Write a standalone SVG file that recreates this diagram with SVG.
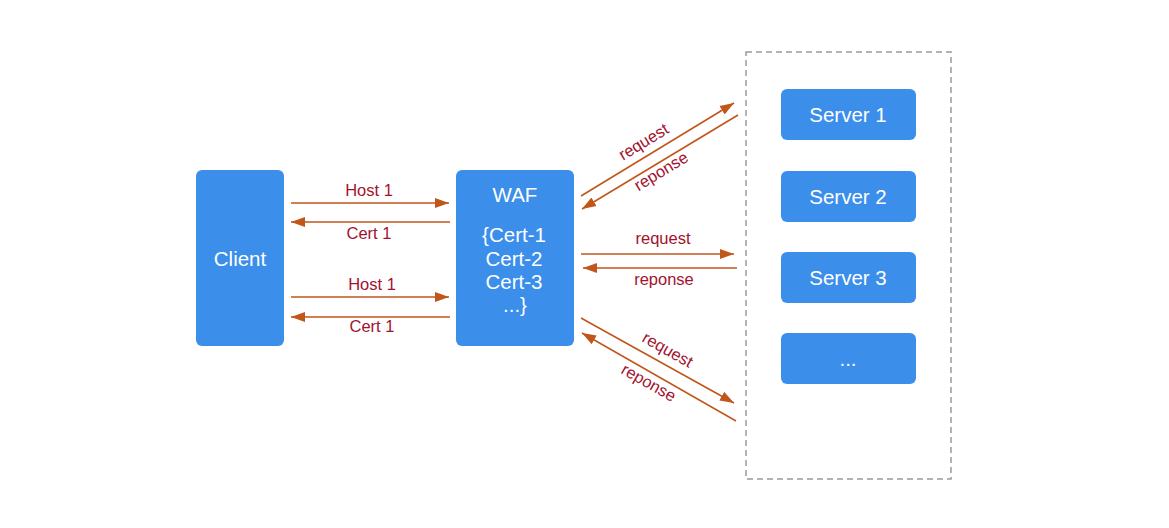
<svg xmlns="http://www.w3.org/2000/svg" width="1169" height="528" viewBox="0 0 1169 528">
<style>
.box{fill:#3b8eea;}
.t{font-family:"Liberation Sans",Arial,sans-serif;fill:#ffffff;font-size:20.5px;text-anchor:middle;}
.lbl{font-family:"Liberation Sans",Arial,sans-serif;fill:#a3122e;font-size:16.5px;text-anchor:middle;}
.ln{stroke:#c1561b;stroke-width:1.6;fill:none;marker-end:url(#ah);}
</style>
<defs>
<marker id="ah" markerUnits="userSpaceOnUse" markerWidth="15" markerHeight="11" refX="14" refY="5.5" orient="auto">
<path d="M0,0.5 L14,5.5 L0,10.5 Z" fill="#c1561b"/>
</marker>
</defs>
<rect width="1169" height="528" fill="#ffffff"/>
<g id="server-pool">
<rect x="746" y="52" width="205" height="427" fill="none" stroke="#9a9a9a" stroke-width="1.5" stroke-dasharray="6,4"/>
</g>
<g id="client">
<rect class="box" x="196" y="170" width="88" height="176" rx="6"/>
<text class="t" x="240" y="266">Client</text>
</g>
<g id="waf">
<rect class="box" x="456" y="170" width="118" height="176" rx="6"/>
<text class="t" x="515" y="202">WAF</text>
<text class="t" x="514" y="242">{Cert-1</text>
<text class="t" x="514" y="266">Cert-2</text>
<text class="t" x="514" y="289">Cert-3</text>
<text class="t" x="515" y="312">...}</text>
</g>
<g id="server1">
<rect class="box" x="781" y="89" width="135" height="51" rx="6"/>
<text class="t" x="848" y="122">Server 1</text>
</g>
<g id="server2">
<rect class="box" x="781" y="171" width="135" height="51" rx="6"/>
<text class="t" x="848" y="204">Server 2</text>
</g>
<g id="server3">
<rect class="box" x="781" y="252" width="135" height="51" rx="6"/>
<text class="t" x="848" y="285">Server 3</text>
</g>
<g id="server-more">
<rect class="box" x="781" y="333" width="135" height="51" rx="6"/>
<text class="t" x="848" y="366">...</text>
</g>
<g id="connectors">
<line class="ln" x1="291" y1="203" x2="449" y2="203"/>
<line class="ln" x1="450" y1="222" x2="291" y2="222"/>
<line class="ln" x1="291" y1="297" x2="449" y2="297"/>
<line class="ln" x1="450" y1="317" x2="291" y2="317"/>
<line class="ln" x1="581" y1="254" x2="734" y2="254"/>
<line class="ln" x1="737" y1="268" x2="583" y2="268"/>
<line class="ln" x1="581" y1="196" x2="734" y2="103"/>
<line class="ln" x1="738" y1="115" x2="582" y2="209"/>
<line class="ln" x1="581" y1="318" x2="734" y2="403"/>
<line class="ln" x1="736" y1="421" x2="582" y2="333"/>
<text class="lbl" x="369" y="196">Host 1</text>
<text class="lbl" x="369" y="239">Cert 1</text>
<text class="lbl" x="372" y="290">Host 1</text>
<text class="lbl" x="372" y="332">Cert 1</text>
<text class="lbl" x="663" y="244">request</text>
<text class="lbl" x="664" y="285">reponse</text>
<text class="lbl" transform="translate(646.5,146.5) rotate(-31.2)">request</text>
<text class="lbl" transform="translate(664,176) rotate(-31.2)">reponse</text>
<text class="lbl" transform="translate(665,354.5) rotate(29.5)">request</text>
<text class="lbl" transform="translate(646,387.5) rotate(29.5)">reponse</text>
</g>
</svg>
